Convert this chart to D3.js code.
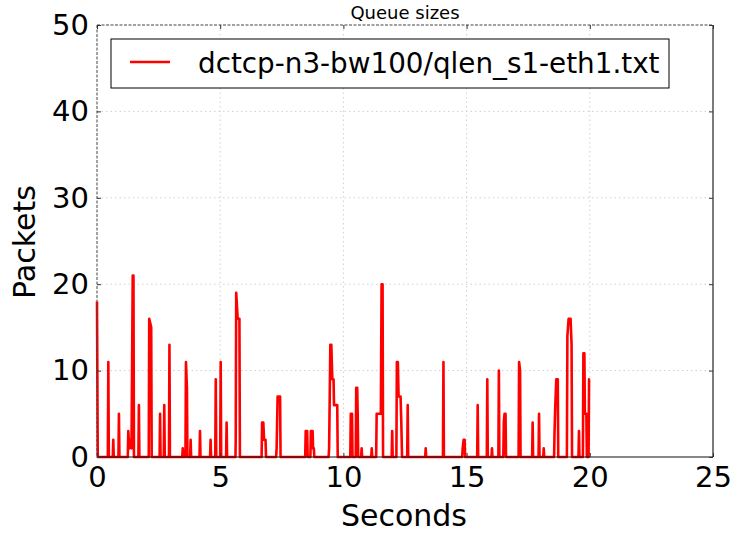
<!DOCTYPE html>
<html>
<head>
<meta charset="utf-8">
<script src="https://cdn.jsdelivr.net/npm/d3@7"></script>
<style>
  html, body { margin: 0; padding: 0; background: #fff; }
  svg { display: block; font-family: "DejaVu Sans", sans-serif; }
</style>
</head>
<body>
<svg id="chart" width="734" height="534"></svg>
<script>
// ---- data ----
const title = "Queue sizes";
const seriesName = "dctcp-n3-bw100/qlen_s1-eth1.txt";
const xLabel = "Seconds";
const yLabel = "Packets";
const xTicks = [0, 5, 10, 15, 20, 25];
const yTicks = [0, 10, 20, 30, 40, 50];

const seconds = [
  0.00, 0.03,
  0.44, 0.46, 0.48,
  0.64, 0.66, 0.68,
  0.87, 0.89, 0.91,
  1.25, 1.27, 1.31, 1.36, 1.40, 1.45, 1.48, 1.50,
  1.68, 1.70, 1.72,
  2.10, 2.12, 2.20, 2.22,
  2.54, 2.56, 2.58,
  2.71, 2.73, 2.75,
  2.92, 2.94, 2.96,
  3.46, 3.48, 3.50,
  3.59, 3.61, 3.65, 3.67,
  3.78, 3.80, 3.82,
  4.16, 4.18, 4.20,
  4.59, 4.61, 4.63,
  4.80, 4.82, 4.84,
  5.00, 5.02, 5.04,
  5.24, 5.26, 5.28,
  5.62, 5.63, 5.65, 5.71, 5.78, 5.80,
  6.68, 6.70, 6.75, 6.78, 6.84, 6.86,
  7.27, 7.29, 7.33, 7.43, 7.45,
  8.45, 8.47, 8.53, 8.55,
  8.66, 8.68, 8.75, 8.77, 8.80, 8.82,
  9.40, 9.42, 9.47, 9.51, 9.55, 9.60, 9.62, 9.75, 9.77,
  10.28, 10.30, 10.35, 10.37,
  10.50, 10.52, 10.56, 10.58, 10.60,
  10.72, 10.74, 10.76,
  11.13, 11.15, 11.17,
  11.33, 11.35, 11.52, 11.55, 11.59, 11.61,
  11.96, 11.98, 12.00,
  12.15, 12.17, 12.21, 12.24, 12.32, 12.35, 12.38,
  12.59, 12.61, 12.63,
  13.32, 13.34, 13.36,
  14.04, 14.06, 14.08,
  14.82, 14.84, 14.88, 14.92, 14.94,
  15.43, 15.45, 15.47,
  15.82, 15.84, 15.86,
  16.01, 16.03, 16.05,
  16.29, 16.31, 16.33,
  16.49, 16.51, 16.54, 16.58, 16.60,
  17.11, 17.13, 17.17, 17.19,
  17.66, 17.68, 17.70,
  17.92, 17.94, 17.96,
  18.11, 18.13, 18.15,
  18.55, 18.57, 18.60, 18.64, 18.70, 18.72,
  19.07, 19.09, 19.14, 19.22, 19.26, 19.28,
  19.54, 19.56, 19.58,
  19.72, 19.74, 19.78, 19.80, 19.86, 19.88,
  19.95, 19.97, 20.00
];
const packets = [
  18, 0,
  0, 11, 0,
  0, 2, 0,
  0, 5, 0,
  0, 3, 1, 2, 1, 21, 21, 0,
  0, 6, 0,
  0, 16, 15, 0,
  0, 5, 0,
  0, 6, 0,
  0, 13, 0,
  0, 1, 0,
  0, 11, 8, 0,
  0, 2, 0,
  0, 3, 0,
  0, 2, 0,
  0, 9, 0,
  0, 11, 0,
  0, 4, 0,
  0, 2, 19, 16, 16, 0,
  0, 4, 4, 2, 2, 0,
  0, 1, 7, 7, 0,
  0, 3, 3, 0,
  0, 3, 3, 1, 1, 0,
  0, 1, 13, 13, 9, 9, 6, 6, 0,
  0, 5, 5, 0,
  0, 8, 8, 5, 0,
  0, 1, 0,
  0, 1, 0,
  0, 5, 5, 20, 20, 0,
  0, 3, 0,
  0, 11, 11, 7, 7, 4, 0,
  0, 6, 0,
  0, 1, 0,
  0, 11, 0,
  0, 1, 2, 2, 0,
  0, 6, 0,
  0, 9, 0,
  0, 1, 0,
  0, 10, 0,
  0, 4, 5, 5, 0,
  0, 11, 10, 0,
  0, 4, 0,
  0, 5, 0,
  0, 1, 0,
  0, 3, 6, 9, 9, 0,
  0, 14, 16, 16, 13, 0,
  0, 3, 0,
  0, 12, 12, 5, 5, 0,
  0, 9, 9
];

// ---- layout ----
const pLeft = 97, pRight = 713, pTop = 25, pBottom = 457;
const svg = d3.select("#chart");

const x = d3.scaleLinear().domain([0, 25]).range([pLeft, pRight]);
const y = d3.scaleLinear().domain([0, 50]).range([pBottom, pTop]);

// grid
const grid = svg.append("g");
grid.selectAll("line.gx").data(xTicks.slice(1, -1)).join("line")
  .attr("x1", d => x(d)).attr("x2", d => x(d))
  .attr("y1", pTop).attr("y2", pBottom)
  .attr("stroke", "#d0d0d0").attr("stroke-width", 1)
  .attr("stroke-dasharray", "1.5,3");
grid.selectAll("line.gy").data(yTicks.slice(1, -1)).join("line")
  .attr("y1", d => y(d)).attr("y2", d => y(d))
  .attr("x1", pLeft).attr("x2", pRight)
  .attr("stroke", "#d0d0d0").attr("stroke-width", 1)
  .attr("stroke-dasharray", "1.5,3");

// series line
const pts = seconds.map((t, i) => [t, packets[i]]);
svg.append("path")
  .datum(pts)
  .attr("fill", "none")
  .attr("stroke", "#ff0000")
  .attr("stroke-width", 2.6)
  .attr("stroke-linejoin", "round")
  .attr("d", d3.line().x(d => x(d[0])).y(d => y(d[1])));

// frame
svg.append("line").attr("x1", pLeft).attr("x2", pLeft).attr("y1", pTop).attr("y2", pBottom)
  .attr("stroke", "#444").attr("stroke-width", 1).attr("stroke-dasharray", "3,1.5");
svg.append("line").attr("x1", pLeft).attr("x2", pRight).attr("y1", pTop).attr("y2", pTop)
  .attr("stroke", "#444").attr("stroke-width", 1).attr("stroke-dasharray", "3,1.5");
svg.append("line").attr("x1", pRight).attr("x2", pRight).attr("y1", pTop).attr("y2", pBottom)
  .attr("stroke", "#222").attr("stroke-width", 1.2);
svg.append("line").attr("x1", pLeft).attr("x2", pRight).attr("y1", pBottom).attr("y2", pBottom)
  .attr("stroke", "#111").attr("stroke-width", 1.2);

// axes (ticks inward)
const fontSize = 29;
const xAxis = svg.append("g").attr("transform", `translate(0,${pBottom})`)
  .call(d3.axisBottom(x).tickValues(xTicks).tickFormat(d3.format("d")).tickSize(-4).tickPadding(9));
xAxis.select(".domain").remove();
xAxis.selectAll("text").attr("font-size", fontSize).attr("font-family", "DejaVu Sans").attr("fill", "#000")
  .attr("dy", "0.71em");
xAxis.selectAll("line").attr("stroke", "#333");

const xTopAxis = svg.append("g").attr("transform", `translate(0,${pTop})`)
  .call(d3.axisTop(x).tickValues(xTicks).tickSize(-4).tickFormat(""));
xTopAxis.select(".domain").remove();
xTopAxis.selectAll("line").attr("stroke", "#333");

const yAxis = svg.append("g").attr("transform", `translate(${pLeft},0)`)
  .call(d3.axisLeft(y).tickValues(yTicks).tickFormat(d3.format("d")).tickSize(-4).tickPadding(8));
yAxis.select(".domain").remove();
yAxis.selectAll("text").attr("font-size", fontSize).attr("font-family", "DejaVu Sans").attr("fill", "#000");
yAxis.selectAll("line").attr("stroke", "#333");

const yRightAxis = svg.append("g").attr("transform", `translate(${pRight},0)`)
  .call(d3.axisRight(y).tickValues(yTicks).tickSize(-4).tickFormat(""));
yRightAxis.select(".domain").remove();
yRightAxis.selectAll("line").attr("stroke", "#333");

// labels
svg.append("text").attr("x", (pLeft + pRight) / 2).attr("y", 19)
  .attr("text-anchor", "middle").attr("font-size", 18).attr("fill", "#000").text(title);
svg.append("text").attr("x", 404).attr("y", 526)
  .attr("text-anchor", "middle").attr("font-size", 30).attr("fill", "#000").text(xLabel);
svg.append("text").attr("transform", "translate(35,242) rotate(-90)")
  .attr("text-anchor", "middle").attr("font-size", 30).attr("fill", "#000").text(yLabel);

// legend
const lg = svg.append("g");
lg.append("rect").attr("x", 111).attr("y", 39).attr("width", 558).attr("height", 49)
  .attr("fill", "#fff").attr("stroke", "#000").attr("stroke-width", 1);
lg.append("line").attr("x1", 130).attr("x2", 170).attr("y1", 62).attr("y2", 62)
  .attr("stroke", "#ff0000").attr("stroke-width", 2.6);
lg.append("text").attr("x", 198).attr("y", 73).attr("font-size", 27.8).attr("fill", "#000").text(seriesName);
</script>
</body>
</html>
